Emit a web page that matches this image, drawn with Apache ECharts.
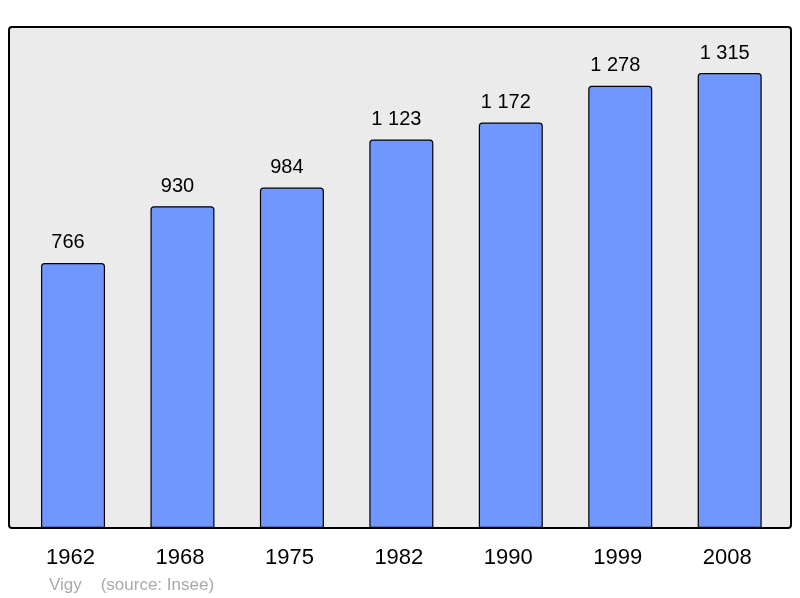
<!DOCTYPE html>
<html><head><meta charset="utf-8">
<script src="https://cdn.jsdelivr.net/npm/echarts@6/dist/echarts.min.js"></script>
<style>html,body{margin:0;padding:0;background:#fff}#c{width:800px;height:598px}</style>
</head><body><div id="c"></div>
<script>
var years = ['1962','1968','1975','1982','1990','1999','2008'];
var population = [766, 930, 984, 1123, 1172, 1278, 1315];
var valueLabels = ['766','930','984','1 123','1 172','1 278','1 315'];
var footer = 'Vigy    (source: Insee)';

var chart = echarts.init(document.getElementById('c'));
chart.setOption({
  animation: false,
  backgroundColor: '#ffffff',
  graphic: [
    {type:'rect', z:-10, shape:{x:9, y:27, width:782, height:501, r:3}, style:{fill:'#ebebeb', stroke:'#000', lineWidth:2}},
    {type:'text', left:49, top:577, style:{text:footer, fill:'#aaaaaa', font:'17px "Liberation Sans", Arial, sans-serif'}}
  ],
  grid: {left:18.3, right:15.6, top:27, bottom:70, containLabel:false},
  xAxis: {
    type:'category', data: years,
    axisLine:{show:false}, axisTick:{show:false},
    axisLabel:{color:'#000', fontSize:22, fontFamily:'"Liberation Sans", Arial, sans-serif', margin:19, padding:[0,5,0,0]}
  },
  yAxis: {type:'value', min:0, max:1448, show:false, splitLine:{show:false}},
  series: [{
    type:'bar', data: population, barWidth:64,
    itemStyle:{color:'#7096ff', borderColor:'#000', borderWidth:1.2, borderRadius:[3,3,0,0]},
    label:{show:true, position:'top', distance:10, offset:[-5,0], color:'#000', fontSize:20,
      fontFamily:'"Liberation Sans", Arial, sans-serif',
      formatter:function(p){return valueLabels[p.dataIndex];}}
  }]
});
</script></body></html>
